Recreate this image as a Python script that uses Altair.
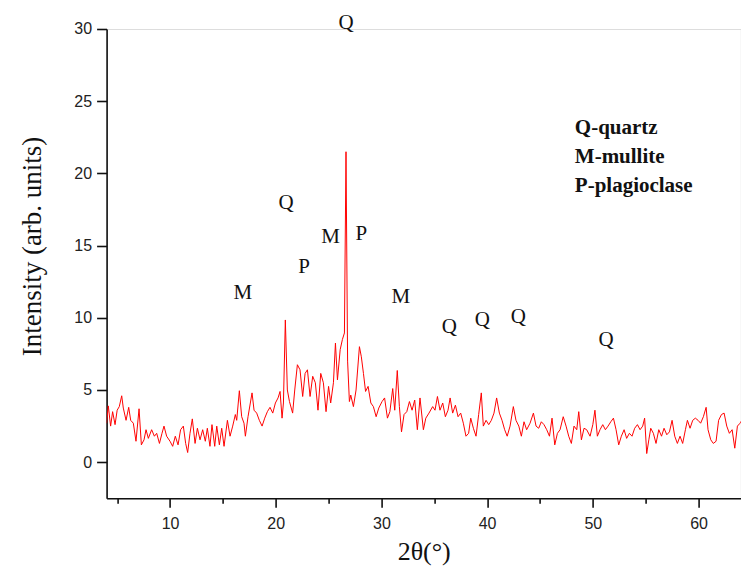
import altair as alt
import pandas as pd

# ---- diffraction pattern ----
two_theta = [
    4.0, 4.16, 4.38, 4.57, 4.8, 5.0, 5.2, 5.43, 5.58, 5.84, 6.09, 6.28, 6.53, 6.78, 7.07, 7.29,
    7.54, 7.73, 7.95, 8.26, 8.52, 8.74, 9.0, 9.24, 9.43, 9.68, 10.0, 10.25, 10.5, 10.76, 11.0,
    11.26, 11.48, 11.67, 11.89, 12.11, 12.37, 12.59, 12.84, 13.09, 13.34, 13.53, 13.78, 13.97,
    14.23, 14.42, 14.67, 14.89, 15.11, 15.43, 15.68, 15.93, 16.18, 16.31, 16.56, 16.78, 17.0,
    17.13, 17.38, 17.76, 17.95, 18.2, 18.45, 18.71, 18.96, 19.21, 19.46, 19.72, 19.97, 20.22,
    20.41, 20.6, 20.73, 20.91, 21.1, 21.3, 21.6, 21.8, 22.05, 22.3, 22.55, 22.78, 23.0, 23.25,
    23.5, 23.75, 24.0, 24.26, 24.51, 24.76, 25.0, 25.2, 25.46, 25.65, 25.84, 26.1, 26.31, 26.5,
    26.65, 26.8, 26.97, 27.1, 27.35, 27.6, 27.92, 28.1, 28.3, 28.5, 28.74, 29.0, 29.24, 29.5,
    29.75, 30.06, 30.3, 30.57, 30.8, 31.07, 31.26, 31.5, 31.7, 31.9, 32.14, 32.4, 32.65, 32.9,
    33.15, 33.4, 33.65, 33.97, 34.2, 34.5, 34.85, 35.07, 35.3, 35.54, 35.8, 36.05, 36.3, 36.5,
    36.74, 37.0, 37.25, 37.5, 37.75, 38.0, 38.25, 38.45, 38.7, 38.95, 39.2, 39.45, 39.64, 39.9,
    40.15, 40.4, 40.65, 40.9, 41.16, 41.41, 41.66, 41.9, 42.17, 42.48, 42.73, 43.0, 43.24,
    43.49, 43.74, 44.06, 44.38, 44.63, 44.88, 45.13, 45.38, 45.64, 45.9, 46.14, 46.4, 46.65,
    46.9, 47.2, 47.47, 47.72, 47.97, 48.22, 48.48, 48.67, 48.92, 49.17, 49.42, 49.74, 50.0,
    50.2, 50.43, 50.68, 50.94, 51.19, 51.44, 51.7, 51.95, 52.2, 52.45, 52.7, 52.96, 53.2,
    53.46, 53.71, 53.96, 54.22, 54.47, 54.72, 54.9, 55.1, 55.3, 55.48, 55.73, 55.98, 56.24,
    56.5, 56.74, 57.0, 57.25, 57.5, 57.75, 58.0, 58.25, 58.5, 58.76, 58.95, 59.2, 59.45, 59.7,
    59.96, 60.2, 60.46, 60.72, 60.9, 61.16, 61.4, 61.66, 61.9, 62.17, 62.42, 62.67, 62.92,
    63.18, 63.43, 63.68, 63.93, 64.2, 64.44, 64.72,
]
intensity = [
    2.7, 3.9, 2.5, 3.5, 2.6, 3.6, 3.85, 4.6, 3.75, 2.9, 3.8, 2.9, 2.7, 1.45, 3.7, 1.2,
    1.55, 2.25, 1.65, 2.25, 1.8, 2.0, 1.3, 2.0, 2.5, 1.8, 1.45, 1.1, 1.8, 1.2, 2.25,
    2.5, 1.3, 0.67, 2.0, 3.0, 1.3, 2.35, 1.55, 2.25, 1.45, 2.35, 1.1, 2.6,
    1.1, 2.5, 1.2, 2.35, 1.1, 2.9, 1.8, 2.5, 3.3, 2.9, 4.95, 3.15, 2.7,
    1.8, 3.15, 4.8, 3.6, 3.4, 2.9, 2.5, 3.05, 3.5, 3.8, 3.4, 4.1, 4.45,
    4.9, 3.05, 4.1, 9.85, 5.0, 4.2, 3.4, 5.0, 6.75, 6.4, 4.55, 6.15, 6.4, 4.55,
    5.95, 5.5, 3.6, 6.15, 5.5, 3.5, 5.25, 4.1, 5.5, 8.25, 5.7, 7.8, 8.5, 8.95,
    21.5, 7.0, 4.2, 4.65, 3.85, 5.0, 8.0, 7.3, 6.15, 4.9, 5.25, 4.1, 3.85, 3.15,
    3.75, 4.2, 4.45, 3.05, 3.5, 5.1, 3.6, 6.35, 3.85, 2.1, 3.3, 3.5, 4.2, 3.6,
    4.3, 2.25, 4.45, 2.25, 3.05, 3.4, 3.85, 3.6, 4.55, 3.6, 4.1, 3.15, 3.6, 4.45,
    3.4, 3.95, 3.15, 3.4, 2.7, 1.8, 2.0, 3.05, 2.35, 1.8, 3.3, 4.8, 2.5, 2.9,
    2.6, 2.9, 3.4, 4.45, 3.4, 2.9, 2.25, 1.8, 2.5, 3.85, 2.9, 2.5, 1.8,
    2.8, 2.25, 2.7, 3.4, 2.5, 2.35, 2.8, 2.6, 2.25, 1.8, 3.05, 1.2, 2.0,
    2.25, 3.15, 2.5, 1.8, 1.3, 2.5, 2.25, 3.5, 1.55, 2.35, 2.25, 1.8, 2.6,
    3.6, 1.8, 2.25, 2.6, 2.25, 2.5, 2.8, 3.05, 2.25, 1.2, 1.8, 2.25, 1.65,
    2.0, 1.8, 2.35, 2.6, 2.25, 2.5, 3.05, 0.6, 1.55, 2.35, 2.0, 1.3, 2.25,
    1.8, 2.35, 1.9, 2.1, 2.9, 1.8, 1.3, 1.8, 1.3, 2.25, 2.9, 2.35, 2.9, 3.05,
    2.9, 2.7, 3.15, 3.8, 2.25, 1.55, 1.3, 1.45, 2.9, 3.3, 3.4, 2.5, 2.0,
    2.25, 0.97, 2.5, 2.7, 3.05, 2.8, 1.8,
]

# ---- phase marks ----
peak_labels = ["Q", "Q", "M", "P", "P", "M", "M", "Q", "Q", "Q", "Q"]
peak_x = [26.65, 20.97, 25.2, 28.1, 22.68, 16.88, 31.83, 36.43, 39.55, 42.95, 51.25]
peak_y = [30.4, 17.98, 15.58, 15.8, 13.55, 11.7, 11.43, 9.39, 9.85, 10.08, 8.47]

# ---- key text ----
key_lines = ["Q-quartz", "M-mullite", "P-plagioclase"]
key_x = [48.3, 48.3, 48.3]
key_y = [23.15, 21.14, 19.13]

x_ticks = [5, 10, 15, 20, 25, 30, 35, 40, 45, 50, 55, 60]
y_ticks = [0, 2.5, 5, 7.5, 10, 12.5, 15, 17.5, 20, 22.5, 25, 27.5, 30]

pattern = pd.DataFrame({"tt": two_theta, "I": intensity})
marks = pd.DataFrame({"tt": peak_x, "I": peak_y, "lab": peak_labels})
keys = pd.DataFrame({"tt": key_x, "I": key_y, "lab": key_lines})

xscale = alt.Scale(domain=[4, 64], nice=False, zero=False)
yscale = alt.Scale(domain=[-2.5, 30], nice=False, zero=False)

xaxis = alt.Axis(
    values=x_ticks,
    labelExpr="datum.value % 10 === 0 ? datum.label : ''",
    tickSize={"condition": {"test": "datum.value % 10 === 0", "value": 9}, "value": 5},
    title="2θ(°)",
    grid=False,
    labelFont="Liberation Sans", labelFontSize=16, labelColor="#222222", labelPadding=8,
    titleFont="Liberation Serif", titleFontSize=26, titleFontWeight="normal",
    titleColor="#111111", titlePadding=7,
    domainColor="#111111", domainWidth=1.6, tickColor="#111111", tickWidth=1.6,
)
yaxis = alt.Axis(
    values=y_ticks,
    labelExpr="datum.value % 5 === 0 ? datum.label : ''",
    tickSize={"condition": {"test": "datum.value % 5 === 0", "value": 10}, "value": 5},
    title="Intensity (arb. units)",
    grid=False,
    labelFont="Liberation Sans", labelFontSize=16, labelColor="#222222", labelPadding=5,
    titleFont="Liberation Serif", titleFontSize=27, titleFontWeight="normal",
    titleColor="#111111", titlePadding=27, titleY=217,
    domainColor="#111111", domainWidth=1.6, tickColor="#111111", tickWidth=1.6,
)

line = alt.Chart(pattern).mark_line(color="#ff0000", strokeWidth=1.0, clip=True).encode(
    x=alt.X("tt:Q", scale=xscale, axis=xaxis),
    y=alt.Y("I:Q", scale=yscale, axis=yaxis),
)

letters = alt.Chart(marks).mark_text(
    font="Liberation Serif", fontSize=21, color="#111111", baseline="middle", align="center"
).encode(x="tt:Q", y="I:Q", text="lab:N")

key = alt.Chart(keys).mark_text(
    font="Liberation Serif", fontSize=21, fontWeight="bold", color="#111111",
    baseline="middle", align="left"
).encode(x="tt:Q", y="I:Q", text="lab:N")

chart = alt.layer(line, letters, key).properties(
    width=634.2,
    height=469.3,
    autosize=alt.AutoSizeParams(type="none"),
    padding={"left": 98.6, "top": 21, "right": 0, "bottom": 70},
).configure_view(stroke=None).configure(background="white")

chart.save("out.html", embed_options={"renderer": "svg", "actions": False})
